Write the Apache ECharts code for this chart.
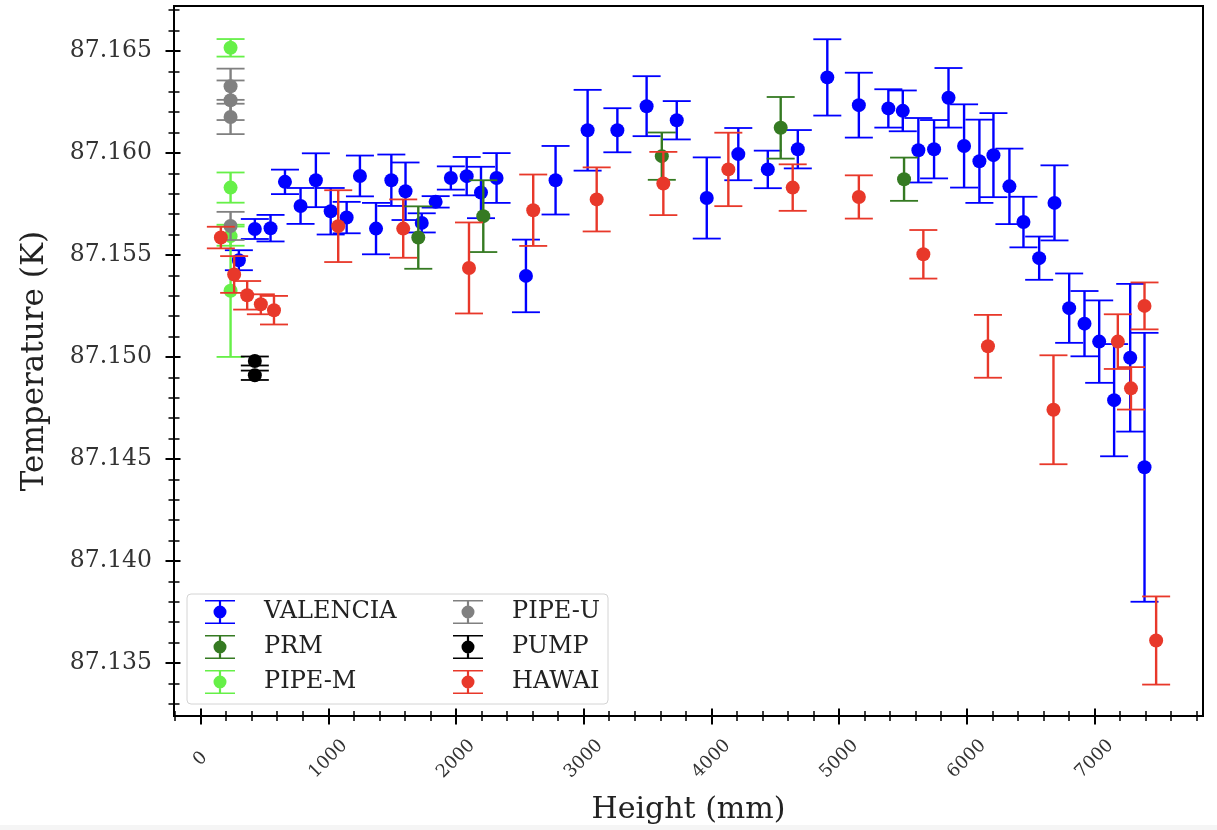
<!DOCTYPE html>
<html>
<head>
<meta charset="utf-8">
<script src="https://cdn.jsdelivr.net/npm/echarts@6/dist/echarts.min.js"></script>
<style>
html,body{margin:0;padding:0;background:#fff;}
#chart{width:1217px;height:830px;}
</style>
</head>
<body>
<div id="chart"></div>
<script>
// ---------------- data ----------------
const valenciaX = [300, 425, 548, 661, 783, 903, 1019, 1144, 1248, 1374, 1494, 1605, 1732, 1841, 1960, 2084, 2196, 2318, 2548, 2780, 3031, 3264, 3493, 3729, 3964, 4211, 4442, 4677, 4908, 5155, 5386, 5499, 5621, 5744, 5857, 5979, 6099, 6209, 6334, 6444, 6567, 6687, 6802, 6922, 7037, 7154, 7280, 7392];
const valenciaY = [87.15474, 87.15627, 87.15631, 87.15858, 87.15740, 87.15866, 87.15714, 87.15683, 87.15887, 87.15629, 87.15866, 87.15812, 87.15657, 87.15760, 87.15877, 87.15886, 87.15806, 87.15877, 87.15397, 87.15866, 87.16111, 87.16111, 87.16229, 87.16160, 87.15779, 87.15994, 87.15919, 87.16018, 87.16370, 87.16234, 87.16218, 87.16206, 87.16013, 87.16018, 87.16270, 87.16034, 87.15959, 87.15989, 87.15836, 87.15661, 87.15484, 87.15755, 87.15239, 87.15163, 87.15075, 87.14788, 87.14996, 87.14459];
const valenciaErr = [0.00049, 0.00049, 0.00065, 0.00060, 0.00088, 0.00132, 0.00114, 0.00077, 0.00100, 0.00126, 0.00126, 0.00141, 0.00047, 0.00028, 0.00057, 0.00094, 0.00126, 0.00122, 0.00178, 0.00168, 0.00198, 0.00108, 0.00147, 0.00094, 0.00199, 0.00128, 0.00092, 0.00094, 0.00187, 0.00159, 0.00094, 0.00100, 0.00158, 0.00143, 0.00146, 0.00204, 0.00204, 0.00206, 0.00185, 0.00124, 0.00106, 0.00184, 0.00170, 0.00160, 0.00202, 0.00275, 0.00362, 0.00659];

const prmX = [1705, 2214, 3612, 4543, 5509];
const prmY = [87.15585, 87.15690, 87.15984, 87.16123, 87.15871];
const prmErr = [0.00153, 0.00176, 0.00116, 0.00151, 0.00106];

const pipeMX = [235, 235, 235, 235];
const pipeMY = [87.16515, 87.15830, 87.15592, 87.15324];
const pipeMErr = [0.00043, 0.00074, 0.00047, 0.00324];

const pipeUX = [235, 235, 235, 235];
const pipeUY = [87.16327, 87.16258, 87.16176, 87.15642];
const pipeUErr = [0.00086, 0.00097, 0.00084, 0.00069];

const pumpX = [425, 425];
const pumpY = [87.14980, 87.14910];
const pumpErr = [0.00022, 0.00023];

const hawaiX = [159, 263, 365, 472, 575, 1078, 1587, 2102, 2605, 3102, 3624, 4133, 4637, 5155, 5660, 6166, 6679, 7183, 7286, 7392, 7483];
const hawaiY = [87.15585, 87.15404, 87.15302, 87.15258, 87.15229, 87.15641, 87.15629, 87.15436, 87.15719, 87.15772, 87.15850, 87.15919, 87.15830, 87.15784, 87.15503, 87.15052, 87.14741, 87.15075, 87.14846, 87.15250, 87.13610];
const hawaiErr = [0.00053, 0.00090, 0.00070, 0.00049, 0.00070, 0.00176, 0.00143, 0.00223, 0.00175, 0.00157, 0.00155, 0.00180, 0.00114, 0.00106, 0.00119, 0.00154, 0.00267, 0.00134, 0.00104, 0.00115, 0.00216];

const seriesNames = ['VALENCIA', 'PRM', 'PIPE-M', 'PIPE-U', 'PUMP', 'HAWAI'];

const xMajorTicks = [0, 1000, 2000, 3000, 4000, 5000, 6000, 7000];
const xMinorTicks = [-200, 0, 200, 400, 600, 800, 1000, 1200, 1400, 1600, 1800, 2000, 2200, 2400, 2600, 2800, 3000, 3200, 3400, 3600, 3800, 4000, 4200, 4400, 4600, 4800, 5000, 5200, 5400, 5600, 5800, 6000, 6200, 6400, 6600, 6800, 7000, 7200, 7400, 7600, 7800];
const yMajorTicks = [87.135, 87.140, 87.145, 87.150, 87.155, 87.160, 87.165];
const yMinorTicks = [87.133, 87.134, 87.135, 87.136, 87.137, 87.138, 87.139, 87.140, 87.141, 87.142, 87.143, 87.144, 87.145, 87.146, 87.147, 87.148, 87.149, 87.150, 87.151, 87.152, 87.153, 87.154, 87.155, 87.156, 87.157, 87.158, 87.159, 87.160, 87.161, 87.162, 87.163, 87.164, 87.165, 87.166, 87.167];

// ---------------- styling ----------------
const X_MIN = -208, X_MAX = 7850;
const Y_MIN = 87.1324, Y_MAX = 87.1672;
const FONT = 'DejaVu Serif';
const colors = {
  'VALENCIA': '#0000ff',
  'PRM': '#357a22',
  'PIPE-M': '#66f048',
  'PIPE-U': '#808080',
  'PUMP': '#000000',
  'HAWAI': '#e8382a'
};
const ICON = 'path://M0,0H30V1.6H0Z M0,22.4H30V24H0Z M13.9,0H16.1V24H13.9Z M8.5,12A6.5,6.5,0,1,1,21.5,12A6.5,6.5,0,1,1,8.5,12Z';

function rows(xs, ys, es) { return xs.map((x, i) => [x, ys[i], es[i]]); }

function renderErr(params, api) {
  const x = api.value(0), y = api.value(1), e = api.value(2);
  const pc = api.coord([x, y]);
  const pt = api.coord([x, y + e]);
  const pb = api.coord([x, y - e]);
  const color = api.visual('color');
  const hw = 14;
  return {
    type: 'group',
    children: [
      { type: 'line', shape: { x1: pc[0], y1: pt[1], x2: pc[0], y2: pb[1] }, style: { stroke: color, lineWidth: 2.4 } },
      { type: 'line', shape: { x1: pc[0] - hw, y1: pt[1], x2: pc[0] + hw, y2: pt[1] }, style: { stroke: color, lineWidth: 1.8 } },
      { type: 'line', shape: { x1: pc[0] - hw, y1: pb[1], x2: pc[0] + hw, y2: pb[1] }, style: { stroke: color, lineWidth: 1.8 } },
      { type: 'circle', shape: { cx: pc[0], cy: pc[1], r: 7 }, style: { fill: color } }
    ]
  };
}

function errSeries(name, data) {
  return {
    type: 'custom', name: name, renderItem: renderErr,
    data: data, encode: { x: 0, y: 1 },
    itemStyle: { color: colors[name] },
    xAxisIndex: 0, yAxisIndex: 0, clip: false
  };
}

const seriesData = {
  'VALENCIA': rows(valenciaX, valenciaY, valenciaErr),
  'PRM': rows(prmX, prmY, prmErr),
  'PIPE-M': rows(pipeMX, pipeMY, pipeMErr),
  'PIPE-U': rows(pipeUX, pipeUY, pipeUErr),
  'PUMP': rows(pumpX, pumpY, pumpErr),
  'HAWAI': rows(hawaiX, hawaiY, hawaiErr)
};

function tickAxisX(values, inside, len, width) {
  return {
    type: 'value', min: X_MIN, max: X_MAX, position: 'bottom', gridIndex: 0,
    axisLine: { show: false, onZero: false }, splitLine: { show: false },
    axisLabel: { show: false },
    axisTick: { show: true, inside: inside, length: len, customValues: values, lineStyle: { color: '#000', width: width } }
  };
}
function tickAxisY(values, inside, len, width) {
  return {
    type: 'value', min: Y_MIN, max: Y_MAX, position: 'left', gridIndex: 0,
    axisLine: { show: false, onZero: false }, splitLine: { show: false },
    axisLabel: { show: false },
    axisTick: { show: true, inside: inside, length: len, customValues: values, lineStyle: { color: '#000', width: width } }
  };
}

const legendCommon = {
  orient: 'vertical', itemWidth: 30, itemHeight: 24, itemGap: 11, padding: 0,
  selectedMode: false, z: 10,
  textStyle: { fontFamily: FONT, fontSize: 24, color: '#222', lineHeight: 24, padding: [0, 0, 0, 24] }
};

const option = {
  animation: false,
  backgroundColor: '#ffffff',
  grid: { left: 174, right: 14, top: 6, bottom: 114, show: true, borderColor: '#000', borderWidth: 2, backgroundColor: 'transparent' },
  xAxis: [
    {
      type: 'value', min: X_MIN, max: X_MAX, position: 'bottom',
      name: 'Height (mm)', nameLocation: 'middle', nameGap: 79,
      nameTextStyle: { fontFamily: FONT, fontSize: 30, color: '#222' },
      axisLine: { show: true, onZero: false, lineStyle: { color: '#000', width: 2 } },
      splitLine: { show: false },
      axisTick: { show: true, length: 8.5, customValues: xMajorTicks, lineStyle: { color: '#000', width: 2 } },
      axisLabel: {
        customValues: xMajorTicks, rotate: 45, align: 'center', verticalAlign: 'middle', margin: 43,
        fontFamily: FONT, fontSize: 18, color: '#333',
        formatter: v => String(v)
      }
    },
    tickAxisX(xMajorTicks, true, 7.5, 2),
    tickAxisX(xMinorTicks, false, 5, 1.5),
    tickAxisX(xMinorTicks, true, 5, 1.5)
  ],
  yAxis: [
    {
      type: 'value', min: Y_MIN, max: Y_MAX, position: 'left',
      name: 'Temperature (K)', nameLocation: 'middle', nameGap: 124,
      nameTextStyle: { fontFamily: FONT, fontSize: 31, color: '#222' },
      axisLine: { show: true, onZero: false, lineStyle: { color: '#000', width: 2 } },
      splitLine: { show: false },
      axisTick: { show: true, length: 8.5, customValues: yMajorTicks, lineStyle: { color: '#000', width: 2 } },
      axisLabel: {
        customValues: yMajorTicks, margin: 22,
        fontFamily: FONT, fontSize: 23.5, color: '#333',
        formatter: v => Number(v).toFixed(3)
      }
    },
    tickAxisY(yMajorTicks, true, 6.5, 2),
    tickAxisY(yMinorTicks, false, 5.5, 1.5),
    tickAxisY(yMinorTicks, true, 5.5, 1.5)
  ],
  legend: [
    Object.assign({}, legendCommon, { left: 205, top: 600, data: seriesNames.slice(0, 3).map(n => ({ name: n, icon: ICON })) }),
    Object.assign({}, legendCommon, { left: 453, top: 600, data: seriesNames.slice(3).map(n => ({ name: n, icon: ICON })) })
  ],
  graphic: [
    { type: 'rect', z: 5, shape: { x: 187, y: 594, width: 421, height: 110, r: 4 }, style: { fill: 'rgba(255,255,255,0.8)', stroke: '#d4d4d4', lineWidth: 1 } },
    { type: 'rect', z: 0, shape: { x: 0, y: 825, width: 1217, height: 5 }, style: { fill: '#f5f5f5' } }
  ],
  series: seriesNames.map(n => errSeries(n, seriesData[n]))
};

const chart = echarts.init(document.getElementById('chart'), null, { renderer: 'canvas' });
chart.setOption(option);
</script>
</body>
</html>
